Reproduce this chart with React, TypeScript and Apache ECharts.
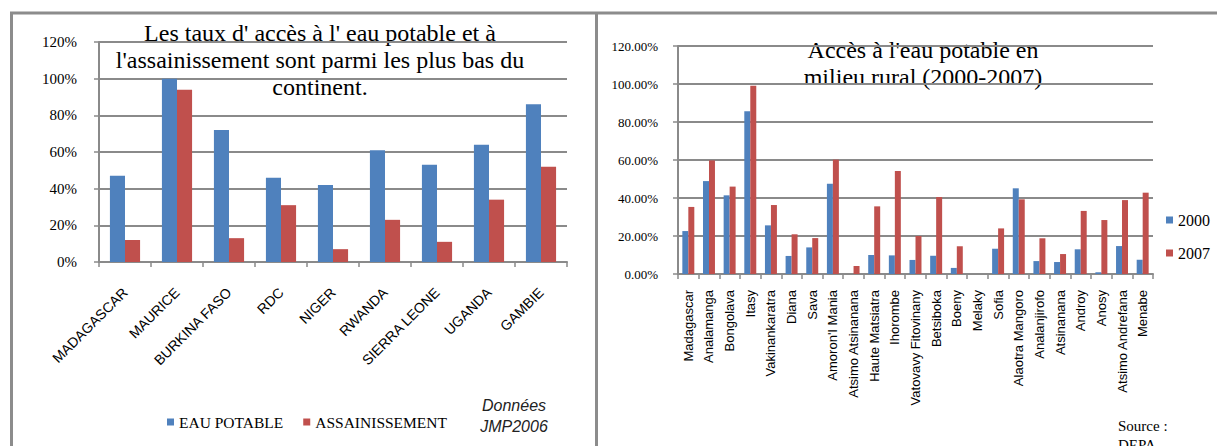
import React, { useEffect, useRef } from 'react';
import * as echarts from 'echarts';

const countries = ['MADAGASCAR', 'MAURICE', 'BURKINA FASO', 'RDC', 'NIGER', 'RWANDA', 'SIERRA LEONE', 'UGANDA', 'GAMBIE'];
const eauPotable = [47, 100, 72, 46, 42, 61, 53, 64, 86];
const assainissement = [12, 94, 13, 31, 7, 23, 11, 34, 52];

const regions = ['Madagascar', 'Analamanga', 'Bongolava', 'Itasy', 'Vakinankaratra', 'Diana', 'Sava', "Amoron'I Mania", 'Atsimo Atsinanana', 'Haute Matsiatra', 'Ihorombe', 'Vatovavy Fitovinany', 'Betsiboka', 'Boeny', 'Melaky', 'Sofia', 'Alaotra Mangoro', 'Analanjirofo', 'Atsinanana', 'Androy', 'Anosy', 'Atsimo Andrefana', 'Menabe'];
const rural2000 = [22.6, 48.9, 41.4, 85.6, 25.6, 9.5, 14.0, 47.5, 0, 10.0, 9.8, 7.4, 9.6, 3.2, 0, 13.3, 45.1, 6.8, 6.3, 13.0, 0.9, 14.7, 7.5];
const rural2007 = [35.3, 59.8, 46.0, 99.1, 36.3, 20.9, 18.9, 60.2, 4.2, 35.6, 54.2, 20.0, 40.5, 14.6, 0, 24.0, 39.3, 18.8, 10.5, 33.2, 28.4, 38.9, 42.8];

const leftTitle = "Les taux d' accès à l' eau potable et à\nl'assainissement sont parmi les plus bas du\ncontinent.";
const rightTitle = "Accès à l'eau potable en\nmilieu rural (2000-2007)";
const leftNote = 'Données\nJMP2006';
const rightNote = 'Source :\nDEPA';

const SERIF = '"Liberation Serif", "Times New Roman", serif';
const SANS = '"Liberation Sans", Arial, sans-serif';
const BLUE = '#4F81BD';
const RED = '#C0504D';
const GRID = '#8a8a8a';

export default function App() {
  const ref = useRef<HTMLDivElement>(null);
  useEffect(() => {
    if (!ref.current) return;
    const chart = echarts.init(ref.current, null, { renderer: 'svg' });
    const axisLine = { show: true, lineStyle: { color: GRID, width: 2 } };
    const axisTick = { show: true, length: 5, lineStyle: { color: GRID, width: 1.5 } };
    const splitLine = { show: true, lineStyle: { color: GRID, width: 2 } };
    chart.setOption({
      animation: false,
      backgroundColor: '#ffffff',
      grid: [
        { left: 99, top: 42, width: 468, height: 220, containLabel: false },
        { left: 678, top: 46, width: 475, height: 228, containLabel: false },
      ],
      xAxis: [
        {
          type: 'category', gridIndex: 0, data: countries,
          axisLine, axisTick: { ...axisTick, alignWithLabel: false },
          axisLabel: { interval: 0, rotate: 45, margin: 28, fontFamily: SANS, fontSize: 14, color: '#000' },
        },
        {
          type: 'category', gridIndex: 1, data: regions,
          axisLine, axisTick: { ...axisTick, alignWithLabel: false },
          axisLabel: { interval: 0, rotate: 90, margin: 16, fontFamily: SANS, fontSize: 13, color: '#000' },
        },
      ],
      yAxis: [
        {
          type: 'value', gridIndex: 0, min: 0, max: 120, interval: 20,
          axisLine, axisTick, splitLine,
          axisLabel: { margin: 22, fontFamily: SERIF, fontSize: 15, color: '#000', formatter: (v: number) => `${v}%` },
        },
        {
          type: 'value', gridIndex: 1, min: 0, max: 120, interval: 20,
          axisLine, axisTick, splitLine,
          axisLabel: { margin: 20, fontFamily: SERIF, fontSize: 13, color: '#000', formatter: (v: number) => `${v.toFixed(2)}%` },
        },
      ],
      legend: [
        {
          data: ['EAU POTABLE', 'ASSAINISSEMENT'], left: 162, top: 409, icon: 'rect',
          itemWidth: 7, itemHeight: 7, itemGap: 20,
          textStyle: { fontFamily: SERIF, fontSize: 15.5, color: '#000' },
        },
        {
          data: ['2000', '2007'], orient: 'vertical', left: 1161, top: 207, icon: 'rect',
          itemWidth: 7, itemHeight: 7, itemGap: 17,
          textStyle: { fontFamily: SERIF, fontSize: 16, color: '#000' },
        },
      ],
      series: [
        { name: 'EAU POTABLE', type: 'bar', xAxisIndex: 0, yAxisIndex: 0, data: eauPotable, itemStyle: { color: BLUE }, barGap: '0%', barCategoryGap: '42%' },
        { name: 'ASSAINISSEMENT', type: 'bar', xAxisIndex: 0, yAxisIndex: 0, data: assainissement, itemStyle: { color: RED }, barGap: '0%', barCategoryGap: '42%' },
        { name: '2000', type: 'bar', xAxisIndex: 1, yAxisIndex: 1, data: rural2000, itemStyle: { color: BLUE }, barGap: '0%', barCategoryGap: '42%' },
        { name: '2007', type: 'bar', xAxisIndex: 1, yAxisIndex: 1, data: rural2007, itemStyle: { color: RED }, barGap: '0%', barCategoryGap: '42%' },
      ],
      graphic: [
        { type: 'line', shape: { x1: 10, y1: 13, x2: 1217, y2: 13 }, style: { stroke: '#8c8c8c', lineWidth: 3 } },
        { type: 'line', shape: { x1: 11.5, y1: 12, x2: 11.5, y2: 446 }, style: { stroke: '#8c8c8c', lineWidth: 3 } },
        { type: 'line', shape: { x1: 596.5, y1: 12, x2: 596.5, y2: 446 }, style: { stroke: '#8c8c8c', lineWidth: 3 } },
        { type: 'text', x: 320, y: 19, style: { text: leftTitle, textAlign: 'center', textVerticalAlign: 'top', font: `24px ${SERIF}`, lineHeight: 27, fill: '#000' } },
        { type: 'text', x: 923, y: 36, style: { text: rightTitle, textAlign: 'center', textVerticalAlign: 'top', font: `24px ${SERIF}`, lineHeight: 27, fill: '#000' } },
        { type: 'text', x: 514, y: 395, style: { text: leftNote, textAlign: 'center', textVerticalAlign: 'top', font: `italic 16px ${SANS}`, lineHeight: 21, fill: '#222' } },
        { type: 'text', x: 1118, y: 416, style: { text: rightNote, textAlign: 'left', textVerticalAlign: 'top', font: `15px ${SERIF}`, lineHeight: 19, fill: '#000' } },
      ],
    });
    return () => chart.dispose();
  }, []);
  return <div ref={ref} style={{ position: 'absolute', left: 0, top: 0, width: 1217, height: 446, background: '#fff' }} />;
}
